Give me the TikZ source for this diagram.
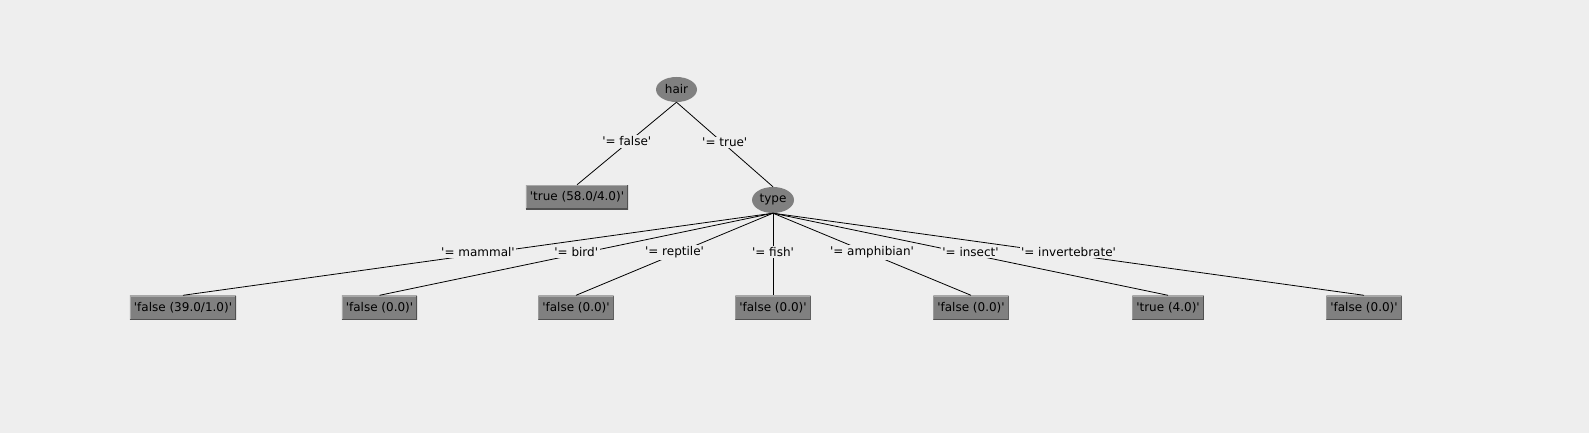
\documentclass[tikz,border=0pt]{standalone}
\usepackage{fontspec}
\setmainfont{DejaVu Sans}[Ligatures=TeXOff]
\usepackage{xcolor}
\usetikzlibrary{positioning,shapes}

\definecolor{bggray}{RGB}{238,238,238}
\definecolor{nodegray}{RGB}{128,128,128}
\definecolor{edgelight}{RGB}{168,168,168}
\definecolor{edgedark}{RGB}{80,80,80}
\newcommand{\treefont}{\fontsize{12}{14}\selectfont}

\tikzset{
    split/.style={ellipse, fill=nodegray, inner sep=0pt, font=\treefont},
    leaf/.style={rectangle, fill=nodegray, inner xsep=4pt, minimum height=24pt, font=\treefont,
        path picture={
            \draw[edgelight, line width=2pt] (path picture bounding box.south west) |- (path picture bounding box.north east);
            \draw[edgedark, line width=2pt] (path picture bounding box.south west) -| (path picture bounding box.north east);
        }},
    cond/.style={fill=bggray, inner sep=1.5pt, yshift=2pt, font=\treefont},
    branch/.style={black, line width=0.8pt}
}

\begin{document}
\begin{tikzpicture}[x=1pt, y=-1pt]
        \fill[bggray] (0,0) rectangle (1589,433);
        \useasboundingbox (0,0) rectangle (1589,433);
        \node (hair) [split, minimum width=41pt, minimum height=25pt] at (676.5,89.5) {hair};
        \node (hairno) [leaf] at (577,197) {'true (58.0/4.0)'};
        \node (type) [split, minimum width=42pt, minimum height=26pt] at (773,200) {type};
        \node (mammal) [leaf] at (183,307.5) {'false (39.0/1.0)'};
        \node (bird) [leaf] at (379.5,307.5) {'false (0.0)'};
        \node (reptile) [leaf] at (576,307.5) {'false (0.0)'};
        \node (fish) [leaf] at (773,307.5) {'false (0.0)'};
        \node (amphibian) [leaf] at (971,307.5) {'false (0.0)'};
        \node (insect) [leaf] at (1168,307.5) {'true (4.0)'};
        \node (invert) [leaf] at (1364,307.5) {'false (0.0)'};
        % hair
        \draw[branch] (hair.south) -- node[cond] {'= false'} (hairno.north);
        \draw[branch] (hair.south) -- node[cond] {'= true'} (type.north);
        % type
        \draw[branch] (type.south) -- node[cond] {'= mammal'} (mammal.north);
        \draw[branch] (type.south) -- node[cond] {'= bird'} (bird.north);
        \draw[branch] (type.south) -- node[cond] {'= reptile'} (reptile.north);
        \draw[branch] (type.south) -- node[cond] {'= fish'} (fish.north);
        \draw[branch] (type.south) -- node[cond] {'= amphibian'} (amphibian.north);
        \draw[branch] (type.south) -- node[cond] {'= insect'} (insect.north);
        \draw[branch] (type.south) -- node[cond] {'= invertebrate'} (invert.north);
    \end{tikzpicture}
\end{document}
